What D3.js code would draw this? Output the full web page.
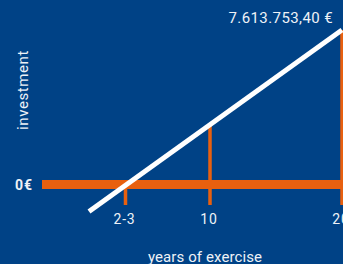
<!DOCTYPE html>
<html><head><meta charset="utf-8">
<script src="https://cdn.jsdelivr.net/npm/d3@7"></script>
<style>
html,body{margin:0;padding:0;background:#004286;overflow:hidden;}
svg{display:block;font-family:Roboto,sans-serif;}
</style></head>
<body><div id="chart"></div>
<script>
// data
const tickLabels = ["2-3", "10", "20"];
const tickYears = [2.5, 10, 20];
const tickTopValues = [0, 2950000, 7613753.40];
const lineYears = [0, 20];
const lineValues = [-1330000, 7613753.40];
const endLabel = "7.613.753,40 €";
const zeroLabel = "0€";
const xTitle = "years of exercise";
const yTitle = "investment";

const W = 343, H = 264;
const svg = d3.select("#chart").append("svg").attr("width", W).attr("height", H);
svg.append("rect").attr("width", W).attr("height", H).attr("fill", "#004286");

const x = d3.scaleLinear().domain([0, 2.5, 10, 20]).range([89, 125.5, 210, 342]);
const y = d3.scaleLinear().domain([0, 7613753.40]).range([184.5, 30]);
const orange = "#e8600f";
const txt = "#eef2f7";

// vertical ticks
svg.selectAll("line.tick").data(tickYears).join("line")
  .attr("class", "tick")
  .attr("x1", d => x(d)).attr("x2", d => x(d))
  .attr("y1", (d, i) => y(tickTopValues[i]))
  .attr("y2", y(0) + 20.5)
  .attr("stroke", orange).attr("stroke-width", 3.5);

// zero bar
svg.append("line")
  .attr("x1", 42).attr("x2", W)
  .attr("y1", y(0)).attr("y2", y(0))
  .attr("stroke", orange).attr("stroke-width", 9);

// white line
const pts = lineYears.map((d, i) => [x(d), y(lineValues[i])]);
svg.append("path").attr("d", d3.line()(pts))
  .attr("stroke", "#ffffff").attr("stroke-width", 5).attr("fill", "none");

// tick labels
svg.selectAll("text.tl").data(tickLabels).join("text")
  .attr("class", "tl")
  .attr("x", (d, i) => x(tickYears[i]) - 1).attr("y", 223.5)
  .attr("text-anchor", "middle").attr("fill", txt)
  .attr("font-size", 14).attr("letter-spacing", 0.8).text(d => d);

svg.append("text").attr("x", 33).attr("y", y(0) + 5)
  .attr("text-anchor", "end").attr("fill", txt)
  .attr("font-size", 14).attr("letter-spacing", 1).attr("font-weight", "bold").text(zeroLabel);

svg.append("text").attr("x", 333).attr("y", 23.3)
  .attr("text-anchor", "end").attr("fill", txt)
  .attr("font-size", 15).attr("letter-spacing", 0.4).text(endLabel);

svg.append("text").attr("x", 205).attr("y", 262)
  .attr("text-anchor", "middle").attr("fill", txt)
  .attr("font-size", 15).attr("letter-spacing", 0.1).text(xTitle);

svg.append("text").attr("transform", "translate(28,90) rotate(-90)")
  .attr("text-anchor", "middle").attr("fill", txt)
  .attr("font-size", 15).attr("letter-spacing", 0.6).text(yTitle);
</script></body></html>
